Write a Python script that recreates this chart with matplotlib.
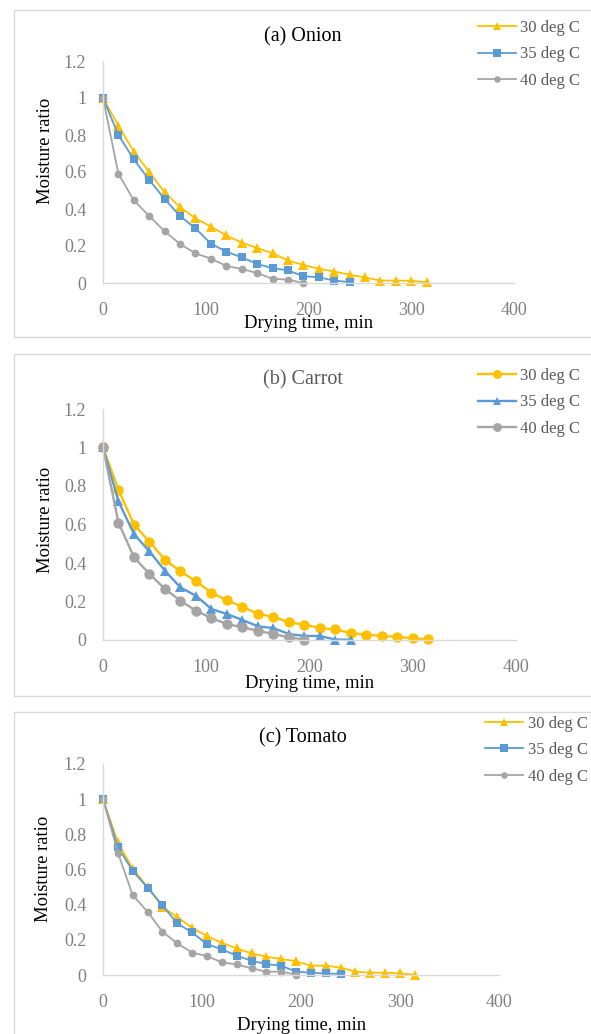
import matplotlib
matplotlib.use("Agg")
import matplotlib.pyplot as plt
from matplotlib.patches import Rectangle

plt.rcParams['font.family'] = ['Liberation Serif', 'DejaVu Serif']

# ---------------- data ----------------
time_30 = [0, 15, 30, 45, 60, 75, 90, 105, 120, 135, 150, 165, 180, 195, 210, 225, 240, 255, 270, 285, 300, 315]
time_35 = [0, 15, 30, 45, 60, 75, 90, 105, 120, 135, 150, 165, 180, 195, 210, 225, 240]
time_40 = [0, 15, 30, 45, 60, 75, 90, 105, 120, 135, 150, 165, 180, 195]

onion_30 = [1.0, 0.85, 0.71, 0.60, 0.49, 0.41, 0.35, 0.305, 0.257, 0.218, 0.19, 0.16, 0.122, 0.097, 0.077, 0.062, 0.045, 0.03, 0.013, 0.013, 0.012, 0.004]
onion_35 = [1.0, 0.80, 0.668, 0.557, 0.454, 0.362, 0.295, 0.213, 0.169, 0.139, 0.103, 0.080, 0.068, 0.037, 0.031, 0.013, 0.005]
onion_40 = [1.0, 0.59, 0.447, 0.362, 0.279, 0.211, 0.16, 0.132, 0.092, 0.076, 0.054, 0.023, 0.018, 0.0]

carrot_30 = [1.0, 0.78, 0.60, 0.51, 0.417, 0.356, 0.305, 0.246, 0.206, 0.173, 0.135, 0.121, 0.092, 0.08, 0.062, 0.055, 0.036, 0.028, 0.021, 0.016, 0.009, 0.003]
carrot_35 = [1.0, 0.72, 0.55, 0.46, 0.36, 0.273, 0.23, 0.161, 0.135, 0.104, 0.071, 0.062, 0.031, 0.021, 0.021, 0.002, 0.002]
carrot_40 = [1.0, 0.61, 0.43, 0.343, 0.265, 0.204, 0.152, 0.114, 0.083, 0.066, 0.048, 0.031, 0.014, 0.002]

tomato_30 = [1.0, 0.756, 0.605, 0.50, 0.387, 0.33, 0.268, 0.221, 0.183, 0.151, 0.123, 0.104, 0.091, 0.078, 0.053, 0.053, 0.042, 0.019, 0.013, 0.013, 0.009, 0.002]
tomato_35 = [1.0, 0.728, 0.592, 0.497, 0.397, 0.293, 0.242, 0.176, 0.146, 0.11, 0.081, 0.062, 0.053, 0.019, 0.013, 0.009, 0.006]
tomato_40 = [1.0, 0.696, 0.454, 0.36, 0.246, 0.18, 0.127, 0.108, 0.072, 0.06, 0.038, 0.019, 0.019, 0.002]

series_labels = ["30 deg C", "35 deg C", "40 deg C"]
panel_titles = ["(a) Onion", "(b) Carrot", "(c) Tomato"]
x_ticks = [0, 100, 200, 300, 400]
y_ticks = [0, 0.2, 0.4, 0.6, 0.8, 1.0, 1.2]
y_tick_labels = ["0", "0.2", "0.4", "0.6", "0.8", "1", "1.2"]
x_label = "Drying time, min"
y_label = "Moisture ratio"

# ---------------- style ----------------
W, H = 591, 1034
DPI = 100
C30, C35, C40 = "#FFC000", "#5B9BD5", "#A5A5A5"
TICK_C = "#808080"
LEG_C = "#595959"
SPINE_C = "#D9D9D9"
FS_TICK = 13
FS_TITLE = 14.5
FS_LAB = 13.4
FS_LEG = 12

fig = plt.figure(figsize=(W / DPI, H / DPI), dpi=DPI)

def fx(px):
    return px / W

def fy(py):
    return 1 - py / H

panels = [
    dict(title=panel_titles[0], title_c="#000000",
         data=[onion_30, onion_35, onion_40], markers=['^', 's', 'o'], ms=[6.8, 6.2, 5.6], lw=1.3,
         frame=(14, 10, 600, 337), ax=(103, 61, 514, 283),
         title_y=37, ylab=(45, 151), xlab=(309, 324), leg=(478, 20)),
    dict(title=panel_titles[1], title_c="#595959",
         data=[carrot_30, carrot_35, carrot_40], markers=['o', '^', 'o'], ms=[7.5, 7.2, 7.5], lw=1.7,
         frame=(14, 354, 600, 696), ax=(103, 409, 516, 640),
         title_y=380, ylab=(45, 520), xlab=(310, 684), leg=(478, 368)),
    dict(title=panel_titles[2], title_c="#000000",
         data=[tomato_30, tomato_35, tomato_40], markers=['^', 's', 'o'], ms=[6.8, 6.2, 5.6], lw=1.3,
         frame=(14, 712, 600, 1045), ax=(103, 764, 499, 975),
         title_y=738, ylab=(44, 869), xlab=(302, 1026), leg=(485, 716)),
]

times = [time_30, time_35, time_40]
colors = [C30, C35, C40]

for p in panels:
    x0, y0, x1, y1 = p['frame']
    fig.patches.append(Rectangle((fx(x0), fy(y1)), fx(x1) - fx(x0), fy(y0) - fy(y1),
                                 transform=fig.transFigure, fill=False,
                                 edgecolor=SPINE_C, linewidth=1.0, zorder=0))
    l, t, r, b = p['ax']
    ax = fig.add_axes([fx(l), fy(b), fx(r) - fx(l), fy(t) - fy(b)])
    ax.set_facecolor('none')
    handles = []
    for tt, vals, c, m, ms, lab in zip(times, p['data'], colors, p['markers'], p['ms'], series_labels):
        h, = ax.plot(tt, vals, color=c, marker=m, markersize=ms, linewidth=p['lw'],
                     markeredgewidth=0, label=lab, clip_on=False)
        handles.append(h)
    ax.set_xlim(0, 400)
    ax.set_ylim(0, 1.2)
    ax.set_xticks(x_ticks)
    ax.set_yticks(y_ticks)
    ax.set_yticklabels(y_tick_labels)
    for s in ['top', 'right']:
        ax.spines[s].set_visible(False)
    for s in ['left', 'bottom']:
        ax.spines[s].set_color(SPINE_C)
        ax.spines[s].set_linewidth(1.0)
    ax.tick_params(axis='both', length=0, labelsize=FS_TICK, labelcolor=TICK_C)
    ax.tick_params(axis='x', pad=14.0)
    ax.tick_params(axis='y', pad=12)

    fig.text(fx(303), fy(p['title_y']), p['title'], ha='center', va='center',
             fontsize=FS_TITLE, color=p['title_c'])
    fig.text(fx(p['ylab'][0]), fy(p['ylab'][1]), y_label, rotation=90, ha='center', va='center',
             fontsize=FS_LAB, color='#000000')
    fig.text(fx(p['xlab'][0]), fy(p['xlab'][1]), x_label, ha='center', va='center',
             fontsize=FS_LAB, color='#000000')

    leg = fig.legend(handles=handles, loc='upper left',
                     bbox_to_anchor=(fx(p['leg'][0]), fy(p['leg'][1])),
                     bbox_transform=fig.transFigure, frameon=False, fontsize=FS_LEG,
                     handlelength=2.3, handletextpad=0.25, labelspacing=0.62,
                     borderpad=0.0, borderaxespad=0.0, markerscale=0.85)
    for txt in leg.get_texts():
        txt.set_color(LEG_C)

fig.savefig("out.png", dpi=DPI)
